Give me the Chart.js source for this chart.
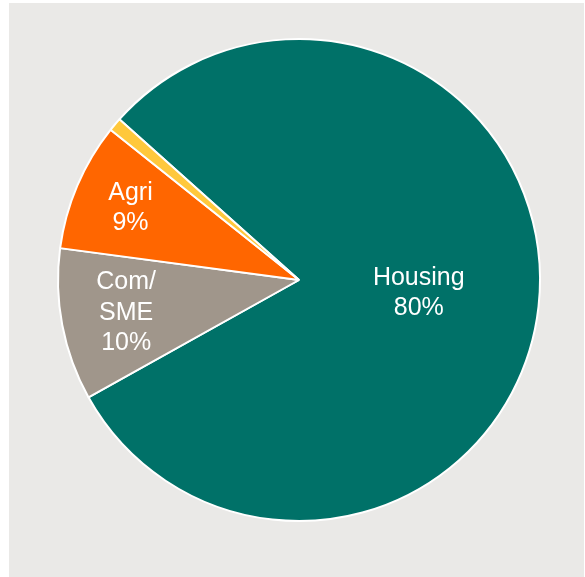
<!DOCTYPE html>
<html>
<head>
<meta charset="utf-8">
<script src="https://cdn.jsdelivr.net/npm/chart.js@4"></script>
<style>
  html, body { margin: 0; padding: 0; background: #ffffff; }
  #panel { position: absolute; left: 9px; top: 3px; width: 575px; height: 574px; background: #EAE9E7; }
  canvas { display: block; }
</style>
</head>
<body>
<div id="panel"><canvas id="c" width="575" height="574"></canvas></div>
<script>
const categories = ["Housing", "Com/SME", "Agri", "Other"];
const shares = [80.3, 10.2, 8.6, 0.9];
const labelLines = [["Housing", "80%"], ["Com/", "SME", "10%"], ["Agri", "9%"], []];
const colours = ["#007168", "#A0968B", "#FF6600", "#FFC83C"];
const labelRadiusFraction = [0.5, 0.73, 0.76, 0];

const sliceLabels = {
  id: "sliceLabels",
  afterDatasetsDraw(chart) {
    const ctx = chart.ctx;
    const meta = chart.getDatasetMeta(0);
    ctx.save();
    ctx.fillStyle = "#ffffff";
    ctx.font = "25px 'Liberation Sans', Arial, sans-serif";
    ctx.textAlign = "center";
    ctx.textBaseline = "middle";
    const lh = 30.5;
    meta.data.forEach((arc, i) => {
      const lines = labelLines[i];
      if (!lines.length) return;
      const p = arc.getProps(["x", "y", "startAngle", "endAngle", "outerRadius"], true);
      const mid = (p.startAngle + p.endAngle) / 2;
      const r = p.outerRadius * labelRadiusFraction[i];
      const cx = p.x + Math.cos(mid) * r;
      const cy = p.y + Math.sin(mid) * r;
      const top = cy - (lines.length - 1) * lh / 2;
      lines.forEach((t, k) => ctx.fillText(t, cx, top + k * lh));
    });
    ctx.restore();
  }
};

new Chart(document.getElementById("c"), {
  type: "pie",
  data: {
    labels: categories,
    datasets: [{
      data: shares,
      backgroundColor: colours,
      borderColor: "#ffffff",
      borderWidth: 2
    }]
  },
  options: {
    responsive: false,
    animation: false,
    rotation: -48.2,
    layout: { padding: { left: 48, right: 43, top: 35, bottom: 55 } },
    plugins: {
      legend: { display: false },
      tooltip: { enabled: false }
    }
  },
  plugins: [sliceLabels]
});
</script>
</body>
</html>
